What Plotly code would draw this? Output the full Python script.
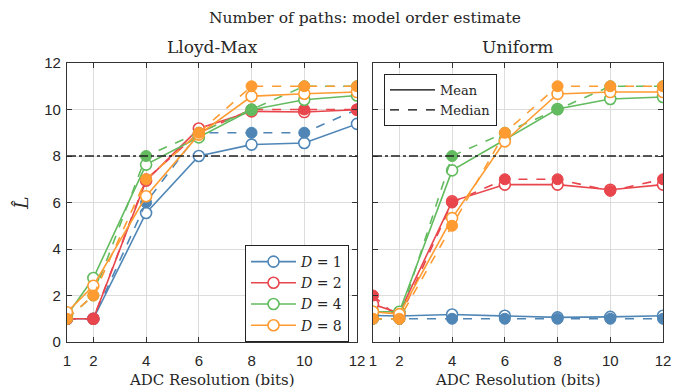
import plotly.graph_objects as go

bits = [1, 2, 4, 6, 8, 10, 12]
d_labels = ["1", "2", "4", "8"]
colors = ["#4f86b6", "#e8464c", "#63bb5f", "#ff9b30"]

lm_mean = [
    [1.0, 1.0, 5.55, 8.0, 8.49, 8.56, 9.38],
    [1.0, 1.0, 6.94, 9.18, 9.92, 9.89, 9.99],
    [1.15, 2.75, 7.63, 8.8, 9.99, 10.42, 10.6],
    [1.28, 2.42, 6.27, 8.92, 10.57, 10.68, 10.75],
]
lm_median = [
    [1, 1, 6, 9, 9, 9, 10],
    [1, 1, 7, 9, 10, 10, 10],
    [1, 2, 8, 9, 10, 11, 11],
    [1, 2, 7, 9, 11, 11, 11],
]
un_mean = [
    [1.14, 1.12, 1.18, 1.13, 1.06, 1.08, 1.13],
    [1.62, 1.25, 6.05, 6.77, 6.77, 6.55, 6.77],
    [1.3, 1.3, 7.38, 8.7, 10.02, 10.45, 10.54],
    [1.3, 1.2, 5.33, 8.63, 10.67, 10.75, 10.75],
]
un_median = [
    [1, 1, 1, 1, 1, 1, 1],
    [2, 1, 6, 7, 7, 6.5, 7],
    [1, 1, 8, 9, 10, 11, 11],
    [1, 1, 5, 9, 11, 11, 11],
]
true_paths = 8
x_ticks = [1, 2, 4, 6, 8, 10, 12]
y_ticks = [0, 2, 4, 6, 8, 10, 12]

SERIF = "DejaVu Serif"
SANS = "Liberation Sans"
TXT = "#262626"

fig = go.Figure()

panels = [("x", "y", lm_mean, lm_median), ("x2", "y2", un_mean, un_median)]
for pi, (xa, ya, means, medians) in enumerate(panels):
    for i in range(4):
        fig.add_trace(go.Scatter(
            x=bits, y=means[i], xaxis=xa, yaxis=ya, mode="lines+markers",
            line=dict(color=colors[i], width=1.6),
            marker=dict(symbol="circle", size=11, color="white",
                        line=dict(color=colors[i], width=1.6)),
            name="<i>D</i> = " + d_labels[i], showlegend=(pi == 0),
            legend="legend",
        ))
        fig.add_trace(go.Scatter(
            x=bits, y=medians[i], xaxis=xa, yaxis=ya, mode="lines+markers",
            line=dict(color=colors[i], width=1.6, dash="dash"),
            marker=dict(symbol="circle", size=11, color=colors[i],
                        line=dict(color=colors[i], width=1)),
            showlegend=False,
        ))

# Mean / Median legend (dummy traces)
fig.add_trace(go.Scatter(x=[None], y=[None], xaxis="x2", yaxis="y2", mode="lines",
                         line=dict(color="black", width=1.3), name="Mean", legend="legend2"))
fig.add_trace(go.Scatter(x=[None], y=[None], xaxis="x2", yaxis="y2", mode="lines",
                         line=dict(color="black", width=1.3, dash="dash"), name="Median", legend="legend2"))

for xr, yr in [("x", "y"), ("x2", "y2")]:
    fig.add_shape(type="line", xref=xr + " domain", yref=yr, x0=0, x1=1,
                  y0=true_paths, y1=true_paths,
                  line=dict(color="#222222", width=1.6, dash="dashdot"))

xdom1 = [67 / 674, 357 / 674]
xdom2 = [373 / 674, 663 / 674]
ydom = [(391 - 342) / 391, (391 - 63) / 391]

axis_common = dict(
    showline=True, linecolor="#333333", linewidth=1.2, mirror="ticks",
    ticks="inside", ticklen=5, tickcolor="#333333", automargin=False,
    showgrid=True, gridcolor="#dcdcdc", gridwidth=1, zeroline=False,
    tickfont=dict(family=SANS, size=15, color=TXT),
)

fig.update_layout(
    width=674, height=391, margin=dict(l=0, r=0, t=0, b=0, autoexpand=False),
    paper_bgcolor="white", plot_bgcolor="white",
    xaxis=dict(domain=xdom1, range=[1, 12], tickvals=x_ticks, anchor="y",
               ticklabelstandoff=5, **axis_common),
    yaxis=dict(domain=ydom, range=[0, 12], tickvals=y_ticks, anchor="x",
               ticklabelstandoff=2, **axis_common),
    xaxis2=dict(domain=xdom2, range=[1, 12], tickvals=x_ticks, anchor="y2",
                ticklabelstandoff=5, **axis_common),
    yaxis2=dict(domain=ydom, range=[0, 12], tickvals=y_ticks, anchor="x2",
                showticklabels=False, **axis_common),
    legend=dict(x=245 / 674, y=(391 - 245) / 391, xanchor="left", yanchor="top",
                bgcolor="white", bordercolor="#222222", borderwidth=1,
                font=dict(family=SERIF, size=14, color=TXT),
                itemwidth=45, tracegroupgap=0),
    legend2=dict(x=384 / 674, y=(391 - 74) / 391, xanchor="left", yanchor="top",
                 bgcolor="white", bordercolor="#222222", borderwidth=1,
                 font=dict(family=SERIF, size=13, color=TXT),
                 itemwidth=45, tracegroupgap=0),
    showlegend=True,
)

annotations = [
    dict(text="Number of paths: model order estimate", x=(67 + 663) / 2 / 674, y=(391 - 18) / 391,
         font=dict(family=SERIF, size=15.5, color=TXT)),
    dict(text="Lloyd-Max", x=(67 + 357) / 2 / 674, y=(391 - 47) / 391,
         font=dict(family=SERIF, size=17, color=TXT)),
    dict(text="Uniform", x=(373 + 663) / 2 / 674, y=(391 - 47) / 391,
         font=dict(family=SERIF, size=17, color=TXT)),
    dict(text="ADC Resolution (bits)", x=(67 + 357) / 2 / 674, y=(391 - 380) / 391,
         font=dict(family=SERIF, size=15, color=TXT)),
    dict(text="ADC Resolution (bits)", x=(373 + 663) / 2 / 674, y=(391 - 380) / 391,
         font=dict(family=SERIF, size=15, color=TXT)),
    dict(text="<i>L\u0302</i>", x=21 / 674, y=(391 - 203) / 391, textangle=-90,
         font=dict(family=SERIF, size=19, color=TXT)),
]
for a in annotations:
    fig.add_annotation(xref="paper", yref="paper", showarrow=False,
                       xanchor="center", yanchor="middle", **a)

fig.write_html("out.html")
